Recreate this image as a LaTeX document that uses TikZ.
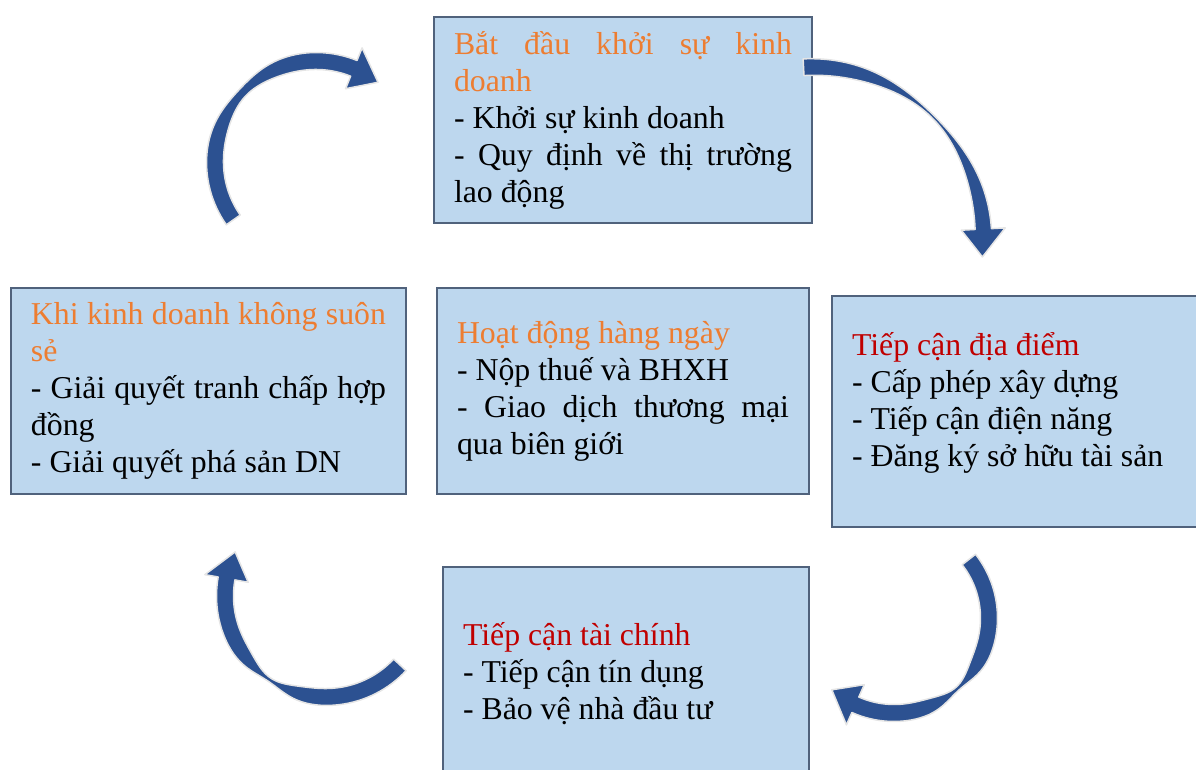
\documentclass[tikz,border=0pt]{standalone}
\usepackage{fontspec}
\setmainfont{Liberation Serif}
\usepackage{tikz}
\usetikzlibrary{calc}

\definecolor{panelfill}{HTML}{BDD7EE}
\definecolor{panelline}{HTML}{50627C}
\definecolor{titleorange}{HTML}{ED7D31}
\definecolor{titlered}{HTML}{C00000}
\definecolor{ringblue}{HTML}{2C5191}

\tikzset{
  panel/.style={draw=panelline,line width=1pt,fill=panelfill,inner xsep=10pt,inner ysep=0pt,
    align=justify,font=\fontsize{15.9}{18.5}\selectfont},
  ringarrow/.style={fill=ringblue,draw=black!10,line width=0.75pt,line join=round}
}

% #1 centre, #2 radius, #3 tail angle, #4 head angle, #5 thin angle, #6 thinnest width, #7 spread
\newcommand{\cyclearrow}[7]{%
  \filldraw[ringarrow,shift={(#1)}]
    plot[domain=#3:#4,samples=60,variable=\t]
      (\t:{#2+0.5*(17-(17-#6)*exp(-((\t-(#5))/#7)^2))})
    -- ({#4}:{#2+22}) -- ({#4-1604/#2}:{#2}) -- ({#4}:{#2-22})
    -- plot[domain=#4:#3,samples=60,variable=\t]
      (\t:{#2-0.5*(17-(17-#6)*exp(-((\t-(#5))/#7)^2))})
    -- cycle;}

\begin{document}
\begin{tikzpicture}[x=0.5pt,y=0.5pt]
            \useasboundingbox (0,0) rectangle (1196,770);

            \node[panel,minimum width=189pt,minimum height=103pt,text width=169pt] (start) at (623,650)
              {{\color{titleorange}Bắt đầu khởi sự kinh\linebreak doanh}\par
               - Khởi sự kinh doanh\par
               - Quy định về thị trường\linebreak lao động};
            \node[panel,minimum width=197.5pt,minimum height=103pt,text width=177.5pt] (trouble) at (208.5,379)
              {{\color{titleorange}Khi kinh doanh không suôn\linebreak sẻ}\par
               - Giải quyết tranh chấp hợp\linebreak đồng\par
               - Giải quyết phá sản DN};
            \node[panel,minimum width=186pt,minimum height=103pt,text width=166pt] (daily) at (623,379)
              {{\color{titleorange}Hoạt động hàng ngày}\par
               - Nộp thuế và BHXH\par
               - Giao dịch thương mại\linebreak qua biên giới};
            \node[panel,minimum width=192pt,minimum height=115.5pt,text width=172pt] (site) at (1024,358.5)
              {{\color{titlered}Tiếp cận địa điểm}\par
               - Cấp phép xây dựng\par
               - Tiếp cận điện năng\par
               - Đăng ký sở hữu tài sản\rule[-12pt]{0pt}{1pt}};
            \node[panel,minimum width=183pt,minimum height=107pt,text width=163pt] (finance) at (626,96)
              {{\color{titlered}Tiếp cận tài chính}\par
               - Tiếp cận tín dụng\par
               - Bảo vệ nhà đầu tư};

            \coordinate (c1) at (316,608);
            \coordinate (c2) at (812.5,532);
            \coordinate (c3) at (894,152);
            \coordinate (c4) at (326,174);

            \cyclearrow{c1}{101}{215}{68}{137}{9}{20}
            \cyclearrow{c2}{171}{93}{3}{45}{3}{24}
            \cyclearrow{c3}{95}{38}{-114}{-48}{4}{15}
            \cyclearrow{c4}{101}{-43}{-190}{-124}{4}{15}
        \end{tikzpicture}
\end{document}
